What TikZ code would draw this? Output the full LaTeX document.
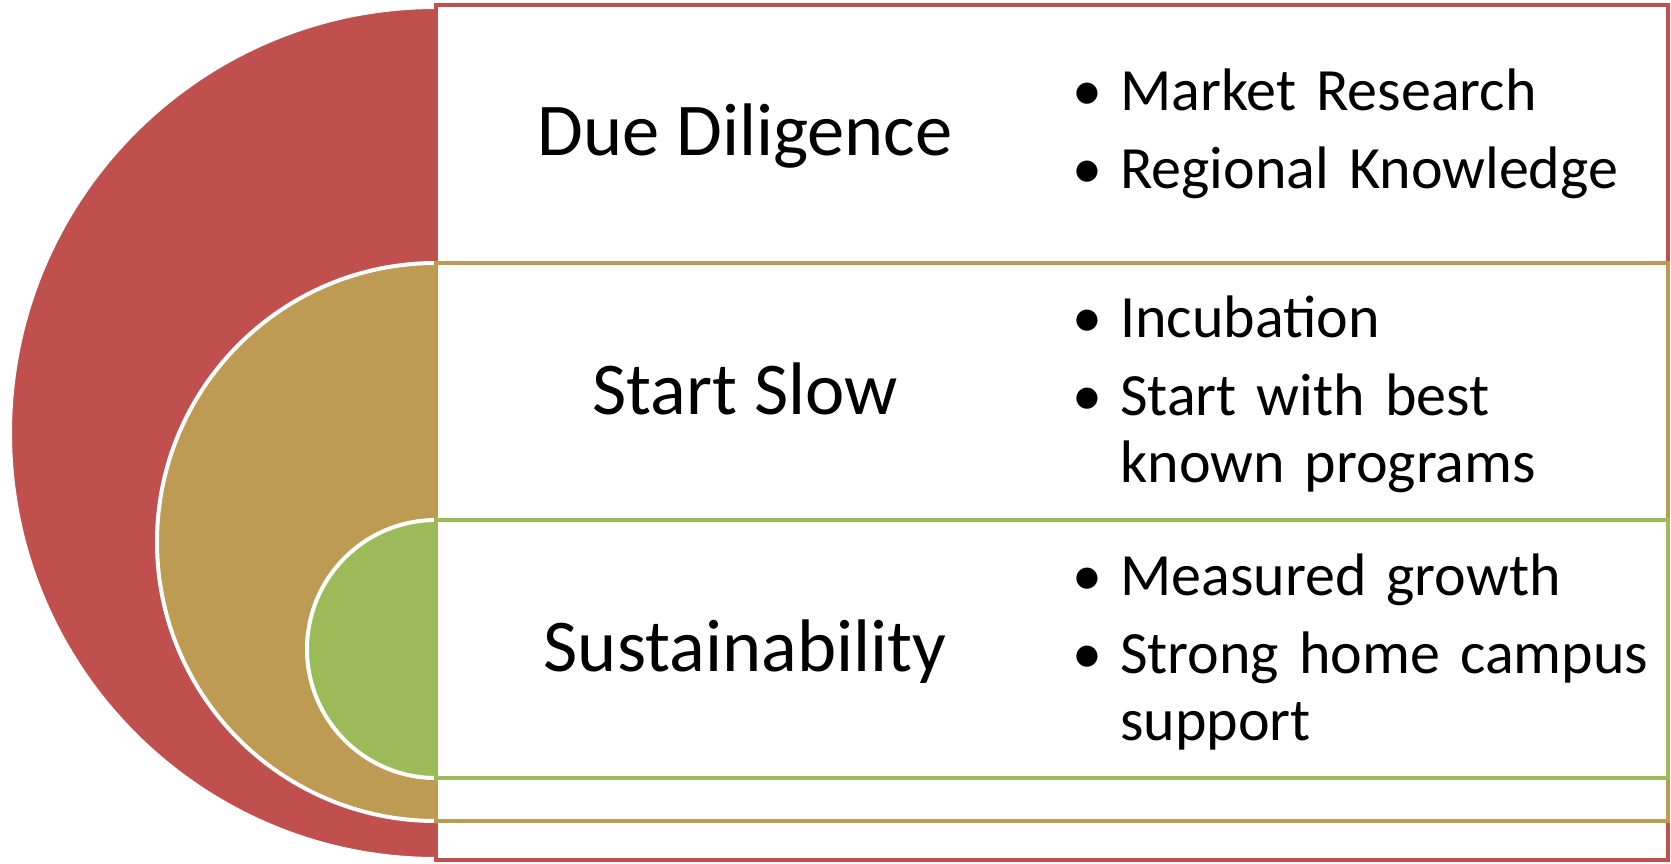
\documentclass[tikz,border=0pt]{standalone}
\usepackage{fontspec}
\setmainfont{Carlito}
\definecolor{cRed}{RGB}{192,80,77}
\definecolor{cGold}{RGB}{190,155,83}
\definecolor{cGreen}{RGB}{155,187,89}
\newcommand{\bitem}[1]{\hangindent=48pt\hangafter=1\noindent\makebox[48pt][l]{\textbullet}#1\par}
\begin{document}
\begin{tikzpicture}[x=1pt,y=-1pt,
  half/.style={draw=white,line width=4pt},
  band/.style={fill=white,line width=4.5pt},
  title/.style={font=\fontsize{74.5}{90}\selectfont,inner sep=0pt,anchor=base},
  bul/.style={font=\fontsize{60}{67}\selectfont,inner sep=0pt,anchor=base west,text width=585pt,align=left}]
\useasboundingbox (0,0) rectangle (1671,863);
% outer (red)
\path[half,fill=cRed] (436,7) arc[start angle=90,end angle=270,radius=426pt] -- cycle;
\draw[band,draw=cRed] (436,5) rectangle (1668,860);
% middle (gold)
\path[half,fill=cGold] (436,263) arc[start angle=90,end angle=270,radius=279pt] -- cycle;
\draw[band,draw=cGold] (436,263) rectangle (1668,821);
% inner (green)
\path[half,fill=cGreen] (436,520) arc[start angle=90,end angle=270,radius=129pt] -- cycle;
\draw[band,draw=cGreen] (436,520) rectangle (1668,778);
% titles
\node[title] (t1) at (745,155) {Due Diligence};
\node[title] (t2) at (745,414) {Start Slow};
\node[title] (t3) at (745,671) {Sustainability};
% bullets
\node[bul] (b1) at (1072,110) {\bitem{Market Research}\vskip11pt\bitem{Regional Knowledge}};
\node[bul] (b2) at (1072,337) {\bitem{Incubation}\vskip11pt\bitem{Start with best\newline known programs}};
\node[bul] (b3) at (1072,595) {\bitem{Measured growth}\vskip11pt\bitem{Strong home campus\newline support}};
\end{tikzpicture}
\end{document}
